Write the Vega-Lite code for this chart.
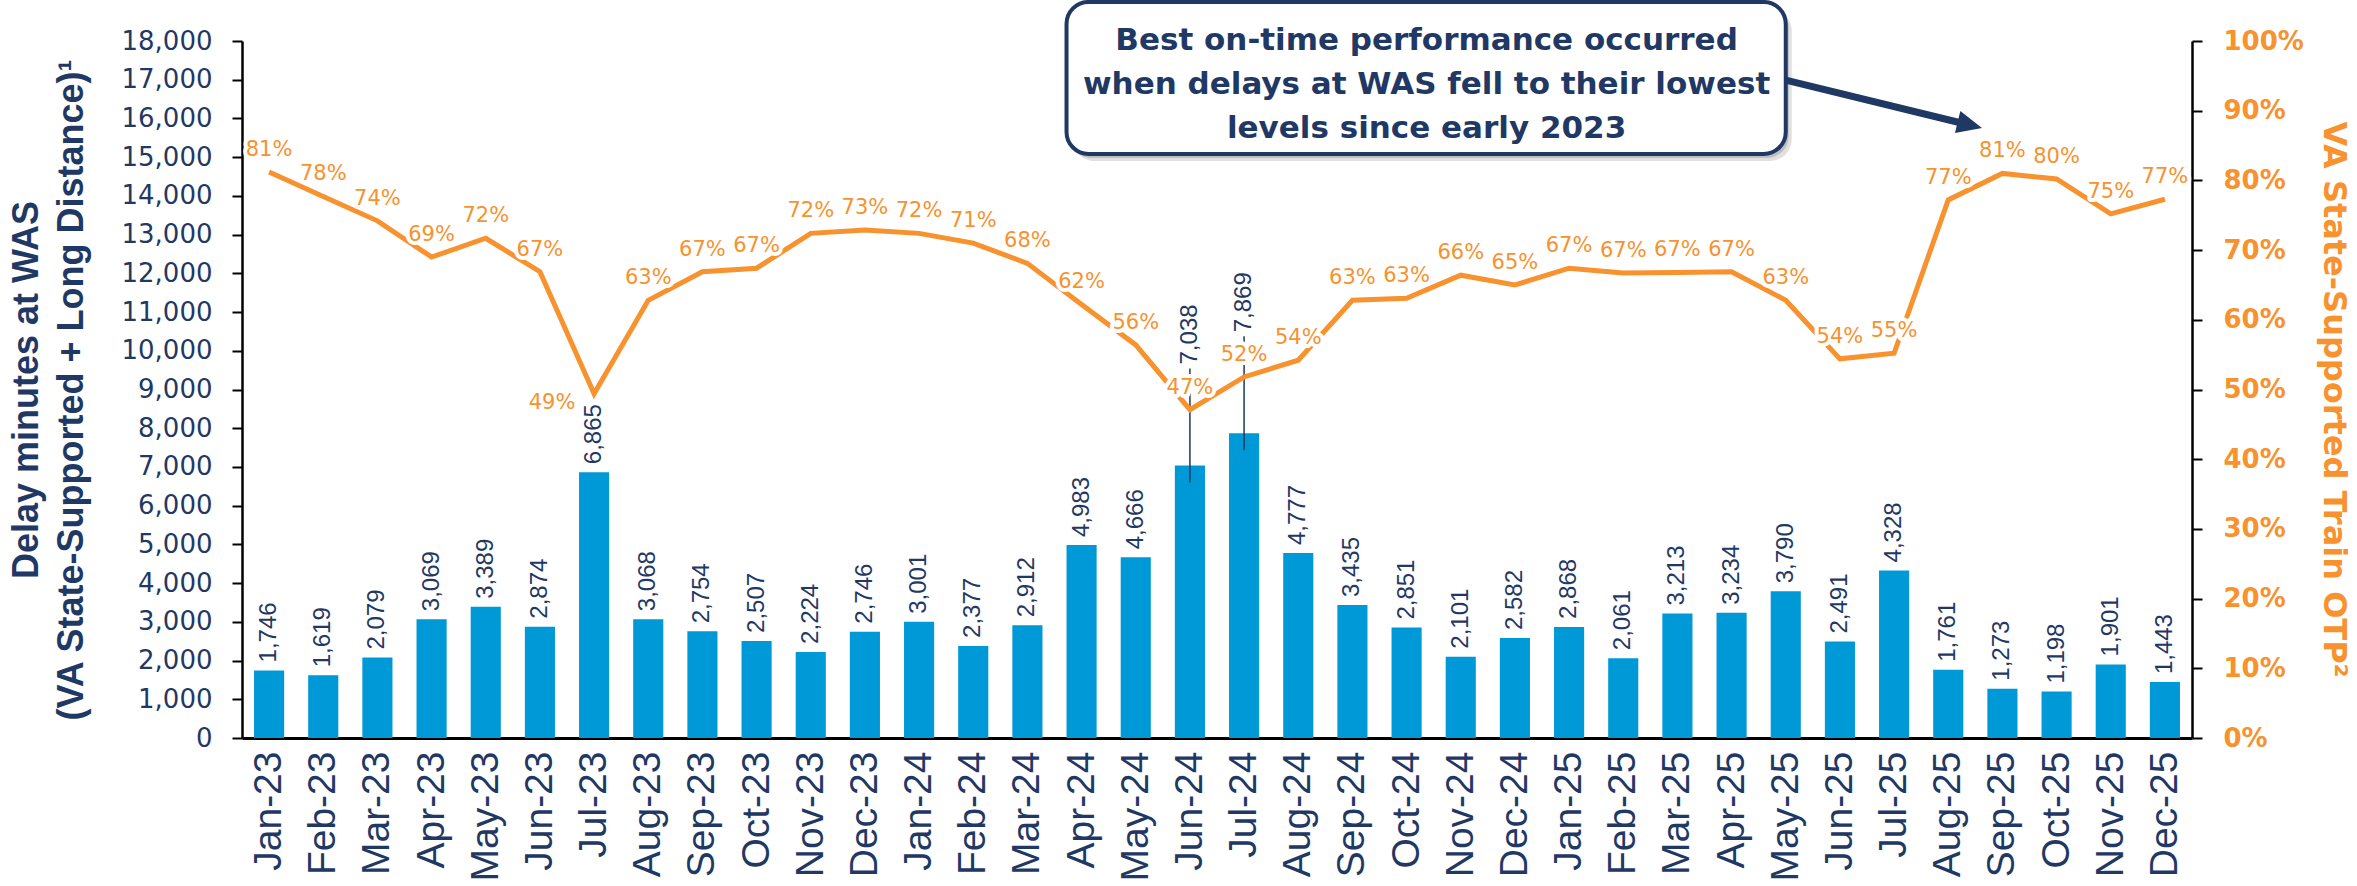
{
  "$schema": "https://vega.github.io/schema/vega-lite/v6.json",
  "width": 1950,
  "height": 697,
  "autosize": {"type": "none"},
  "padding": {"left": 242, "top": 41, "right": 165, "bottom": 148},
  "background": "white",
  "config": {"view": {"stroke": null}, "axis": {"grid": false}},
  "data": {"values": [
    {"month":"Jan-23","delay":1746,"otp":0.812},
    {"month":"Feb-23","delay":1619,"otp":0.777},
    {"month":"Mar-23","delay":2079,"otp":0.742},
    {"month":"Apr-23","delay":3069,"otp":0.690},
    {"month":"May-23","delay":3389,"otp":0.717},
    {"month":"Jun-23","delay":2874,"otp":0.669},
    {"month":"Jul-23","delay":6865,"otp":0.494},
    {"month":"Aug-23","delay":3068,"otp":0.628},
    {"month":"Sep-23","delay":2754,"otp":0.669},
    {"month":"Oct-23","delay":2507,"otp":0.674},
    {"month":"Nov-23","delay":2224,"otp":0.724},
    {"month":"Dec-23","delay":2746,"otp":0.729},
    {"month":"Jan-24","delay":3001,"otp":0.724},
    {"month":"Feb-24","delay":2377,"otp":0.710},
    {"month":"Mar-24","delay":2912,"otp":0.681},
    {"month":"Apr-24","delay":4983,"otp":0.622},
    {"month":"May-24","delay":4666,"otp":0.564},
    {"month":"Jun-24","delay":7038,"otp":0.471},
    {"month":"Jul-24","delay":7869,"otp":0.518},
    {"month":"Aug-24","delay":4777,"otp":0.542},
    {"month":"Sep-24","delay":3435,"otp":0.628},
    {"month":"Oct-24","delay":2851,"otp":0.631},
    {"month":"Nov-24","delay":2101,"otp":0.664},
    {"month":"Dec-24","delay":2582,"otp":0.650},
    {"month":"Jan-25","delay":2868,"otp":0.674},
    {"month":"Feb-25","delay":2061,"otp":0.667},
    {"month":"Mar-25","delay":3213,"otp":0.668},
    {"month":"Apr-25","delay":3234,"otp":0.669},
    {"month":"May-25","delay":3790,"otp":0.628},
    {"month":"Jun-25","delay":2491,"otp":0.544},
    {"month":"Jul-25","delay":4328,"otp":0.552},
    {"month":"Aug-25","delay":1761,"otp":0.772},
    {"month":"Sep-25","delay":1273,"otp":0.810},
    {"month":"Oct-25","delay":1198,"otp":0.802},
    {"month":"Nov-25","delay":1901,"otp":0.752},
    {"month":"Dec-25","delay":1443,"otp":0.773}
  ]},
  "layer": [
    {
      "encoding": {
        "x": {"field": "month", "type": "nominal", "sort": null,
          "scale": {"domain": ["Jan-23","Feb-23","Mar-23","Apr-23","May-23","Jun-23","Jul-23","Aug-23","Sep-23","Oct-23","Nov-23","Dec-23","Jan-24","Feb-24","Mar-24","Apr-24","May-24","Jun-24","Jul-24","Aug-24","Sep-24","Oct-24","Nov-24","Dec-24","Jan-25","Feb-25","Mar-25","Apr-25","May-25","Jun-25","Jul-25","Aug-25","Sep-25","Oct-25","Nov-25","Dec-25"], "paddingInner": 0.444, "paddingOuter": 0.222},
          "axis": {"title": null, "labelAngle": 270, "labelFont": "Liberation Sans", "labelFontSize": 39, "labelColor": "#1F3864", "labelPadding": 13, "ticks": false, "tickSize": 0, "domainColor": "black", "domainWidth": 3, "labelOverlap": false, "labelLimit": 0}},
        "y": {"field": "delay", "type": "quantitative",
          "scale": {"domain": [0, 18000], "nice": false},
          "axis": {"values": [0,1000,2000,3000,4000,5000,6000,7000,8000,9000,10000,11000,12000,13000,14000,15000,16000,17000,18000], "format": ",.0f", "labelFont": "DejaVu Sans", "labelFontSize": 26, "labelColor": "#1F3864", "labelPadding": 20, "tickSize": 10, "tickWidth": 2, "tickColor": "black", "domainColor": "black", "domainWidth": 2.5, "labelOverlap": false,
            "title": ["Delay minutes at WAS", "(VA State-Supported + Long Distance)¹"], "titleFont": "Liberation Sans", "titleFontWeight": "bold", "titleFontSize": 36, "titleColor": "#1F3864", "titleAngle": 270, "titleX": -205, "titleY": 348.5, "titleAlign": "center", "titleBaseline": "alphabetic", "titleLineHeight": 45}}
      },
      "layer": [
        {"mark": {"type": "bar", "color": "#0099D8"}},
        {"transform": [{"filter": "datum.delay < 7000"}],
         "mark": {"type": "text", "angle": 270, "align": "left", "baseline": "middle", "dx": 8, "font": "Liberation Sans", "fontSize": 24, "color": "#1F3864"},
         "encoding": {"text": {"field": "delay", "type": "quantitative", "format": ","}}},
        {"transform": [{"filter": "datum.delay >= 7000"}],
         "mark": {"type": "rule", "color": "#1F3864", "strokeWidth": 1.5, "yOffset": 17, "y2Offset": -97},
         "encoding": {"y2": {"field": "delay"}}},
        {"transform": [{"filter": "datum.delay >= 7000"}],
         "mark": {"type": "text", "angle": 270, "align": "left", "baseline": "middle", "dx": 101, "font": "Liberation Sans", "fontSize": 24, "color": "#1F3864"},
         "encoding": {"text": {"field": "delay", "type": "quantitative", "format": ","}}}
      ]
    },
    {
      "encoding": {
        "y": {"field": "otp", "type": "quantitative",
          "scale": {"domain": [0, 1], "nice": false},
          "axis": {"orient": "right", "values": [0,0.1,0.2,0.3,0.4,0.5,0.6,0.7,0.8,0.9,1], "format": ".0%", "labelFont": "DejaVu Sans", "labelFontWeight": "bold", "labelFontSize": 26, "labelColor": "#F7922E", "labelPadding": 21, "tickSize": 10, "tickWidth": 2, "tickColor": "black", "domainColor": "black", "domainWidth": 2.5, "labelOverlap": false,
            "title": "VA State-Supported Train OTP²", "titleFont": "DejaVu Sans", "titleFontWeight": "bold", "titleFontSize": 32, "titleColor": "#F7922E", "titleAngle": 90, "titleX": 131, "titleY": 358, "titleAlign": "center", "titleBaseline": "alphabetic"}}
      },
      "layer": [
        {"data": {"values": [{"target": 0.8}]},
         "mark": {"type": "rule", "color": "#6F7FA0", "strokeWidth": 2, "strokeDash": [9, 5]},
         "encoding": {"y": {"datum": 0.8}}},
        {"mark": {"type": "line", "color": "#F7922E", "strokeWidth": 5},
         "encoding": {"x": {"field": "month", "type": "nominal", "sort": null}}},
        {"transform": [{"filter": "datum.month != 'Jul-23'"}],
         "mark": {"type": "text", "font": "DejaVu Sans", "fontSize": 21, "align": "center", "baseline": "alphabetic", "dy": -16, "color": "white", "stroke": "white", "strokeWidth": 8, "strokeJoin": "round"},
         "encoding": {"x": {"field": "month", "type": "nominal", "sort": null}, "text": {"field": "otp", "type": "quantitative", "format": ".0%"}}},
        {"transform": [{"filter": "datum.month != 'Jul-23'"}],
         "mark": {"type": "text", "font": "DejaVu Sans", "fontSize": 21, "align": "center", "baseline": "alphabetic", "dy": -16, "color": "#F7922E"},
         "encoding": {"x": {"field": "month", "type": "nominal", "sort": null}, "text": {"field": "otp", "type": "quantitative", "format": ".0%"}}},
        {"transform": [{"filter": "datum.month == 'Jul-23'"}],
         "mark": {"type": "text", "font": "DejaVu Sans", "fontSize": 21, "align": "center", "baseline": "alphabetic", "dx": -42, "dy": 15, "color": "white", "stroke": "white", "strokeWidth": 8, "strokeJoin": "round"},
         "encoding": {"x": {"field": "month", "type": "nominal", "sort": null}, "text": {"field": "otp", "type": "quantitative", "format": ".0%"}}},
        {"transform": [{"filter": "datum.month == 'Jul-23'"}],
         "mark": {"type": "text", "font": "DejaVu Sans", "fontSize": 21, "align": "center", "baseline": "alphabetic", "dx": -42, "dy": 15, "color": "#F7922E"},
         "encoding": {"x": {"field": "month", "type": "nominal", "sort": null}, "text": {"field": "otp", "type": "quantitative", "format": ".0%"}}},
        {"transform": [{"window": [{"op": "lead", "field": "month", "param": 13, "as": "month_end"}]}, {"filter": "datum.month == 'Apr-24'"}],
         "mark": {"type": "rect", "fill": "#000000", "opacity": 0.12, "cornerRadius": 22, "xOffset": 6, "x2Offset": 6, "yOffset": 7, "y2Offset": 7},
         "encoding": {"x": {"field": "month", "type": "nominal", "sort": null, "bandPosition": 0}, "x2": {"field": "month_end", "bandPosition": 0.5}, "y": {"datum": 1.056}, "y2": {"datum": 0.838}}},
        {"transform": [{"window": [{"op": "lead", "field": "month", "param": 13, "as": "month_end"}]}, {"filter": "datum.month == 'Apr-24'"}],
         "mark": {"type": "rect", "fill": "#000000", "opacity": 0.15, "cornerRadius": 22, "xOffset": 3, "x2Offset": 3, "yOffset": 4, "y2Offset": 4},
         "encoding": {"x": {"field": "month", "type": "nominal", "sort": null, "bandPosition": 0}, "x2": {"field": "month_end", "bandPosition": 0.5}, "y": {"datum": 1.056}, "y2": {"datum": 0.838}}},
        {"transform": [{"window": [{"op": "lead", "field": "month", "param": 13, "as": "month_end"}]}, {"filter": "datum.month == 'Apr-24'"}],
         "mark": {"type": "rect", "fill": "white", "stroke": "#1F3864", "strokeWidth": 4, "cornerRadius": 22},
         "encoding": {"x": {"field": "month", "type": "nominal", "sort": null, "bandPosition": 0}, "x2": {"field": "month_end", "bandPosition": 0.5}, "y": {"datum": 1.056}, "y2": {"datum": 0.838}}},
        {"transform": [{"filter": "datum.month == 'Oct-24'"}],
         "mark": {"type": "text", "text": ["Best on-time performance occurred", "when delays at WAS fell to their lowest", "levels since early 2023"], "font": "DejaVu Sans", "fontWeight": "bold", "fontSize": 31, "lineHeight": 44, "color": "#1F3864", "align": "center", "baseline": "alphabetic", "dx": 20},
         "encoding": {"x": {"field": "month", "type": "nominal", "sort": null}, "y": {"datum": 0.9871}}},
        {"transform": [{"window": [{"op": "lead", "field": "month", "param": 4, "as": "month_end"}]}, {"filter": "datum.month == 'May-25'"}],
         "mark": {"type": "rule", "color": "#1F3864", "strokeWidth": 7, "x2Offset": -37},
         "encoding": {"x": {"field": "month", "type": "nominal", "sort": null}, "y": {"datum": 0.944}, "x2": {"field": "month_end"}, "y2": {"datum": 0.8809}}},
        {"transform": [{"filter": "datum.month == 'Sep-25'"}],
         "mark": {"type": "point", "shape": "M-1,-0.9L1,0L-1,0.9Z", "size": 625, "angle": 13.8, "filled": true, "color": "#1F3864", "opacity": 1, "xOffset": -32.6},
         "encoding": {"x": {"field": "month", "type": "nominal", "sort": null}, "y": {"datum": 0.8795}}}
      ]
    }
  ],
  "resolve": {"scale": {"y": "independent"}}
}
